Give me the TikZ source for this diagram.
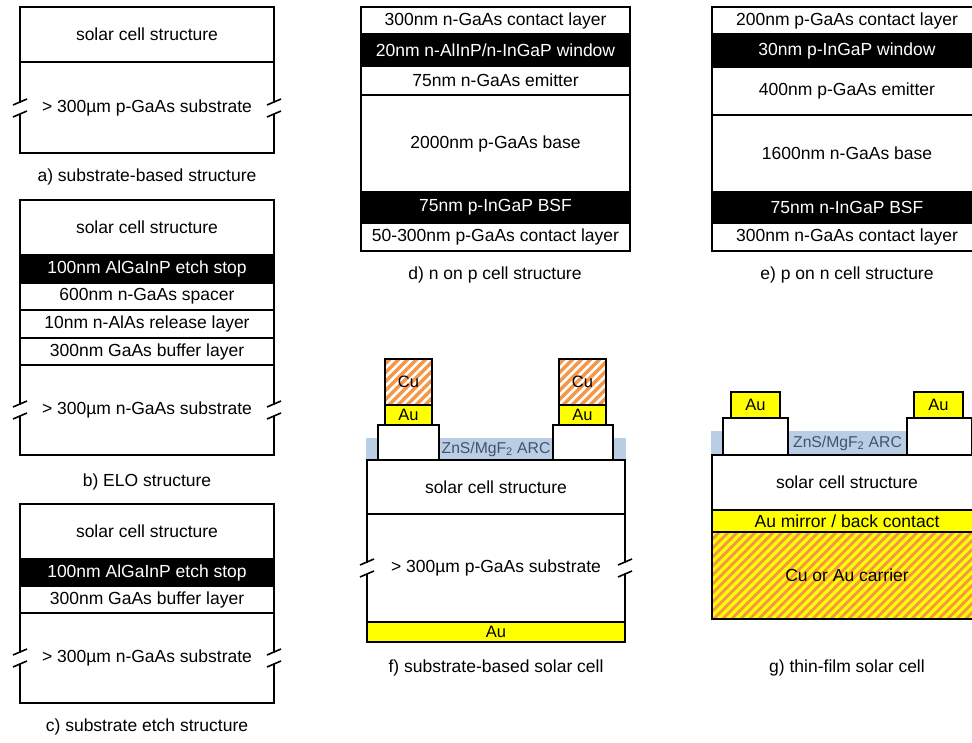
\documentclass[tikz,border=0pt]{standalone}
\usepackage{fontspec}
\setmainfont{Liberation Sans}
\definecolor{auY}{HTML}{FFFF00}
\definecolor{cuO}{HTML}{F79646}
\definecolor{arcB}{HTML}{B9CDE5}
\definecolor{arcT}{HTML}{44546A}
\newcommand\lay[7]{\node[lay,#6,minimum width={(#4-#2)*1pt},minimum height={(#5-#3)*1pt}] (#1) at ({(#2+#4)/2},{(#3+#5)/2}) {#7};}
\newcommand\brkmark[2]{%
  \fill[white] ({#1-2.5},{#2-5.5}) rectangle ({#1+2.5},{#2+5.5});
  \draw[line width=1.6pt] ({#1-7},{#2-3}) -- ({#1+7},{#2-9});
  \draw[line width=1.6pt] ({#1-7},{#2+9}) -- ({#1+7},{#2+3});}
\begin{document}
\begin{tikzpicture}[x=1pt,y=-1pt,
  lay/.style={draw,line width=1.6pt,inner sep=0pt,fill=white,text=black,font=\fontsize{17.5}{20}\selectfont},
  dark/.style={fill=black,text=white},
  gold/.style={fill=auY},
  smalltxt/.style={font=\fontsize{16.5}{19}\selectfont},
  cu/.style={fill=cuO,path picture={\foreach \k in {-150,-141,...,60} \draw[white,line width=2.6pt] ([xshift=\k pt]path picture bounding box.south) -- ++(150,-150);}},
  carrier/.style={fill=cuO,path picture={\foreach \k in {-300,-291,...,160} \draw[auY,line width=3.2pt] ([xshift=\k pt]path picture bounding box.south) -- ++(250,-250);}},
  arc/.style={fill=arcB,draw=none},
  arctxt/.style={text=arcT,inner sep=0pt,font=\fontsize{15.7}{18}\selectfont},
  captxt/.style={inner sep=0pt,font=\fontsize{17.5}{20}\selectfont}]
\useasboundingbox (0,0) rectangle (972,742);
\begin{scope}
\clip (0,0) rectangle (972,742);
% a)
\lay{a1}{20}{7}{274}{62}{}{solar cell structure}
\lay{a2}{20}{62}{274}{153}{}{> 300µm p-GaAs substrate}
\brkmark{20}{108}\brkmark{274}{108}
\node[captxt] (acap) at (147,177) {a) substrate-based structure};
% b)
\lay{b1}{20}{200}{274}{255}{}{solar cell structure}
\lay{b2}{20}{255}{274}{283}{dark}{100nm AlGaInP etch stop}
\lay{b3}{20}{283}{274}{310}{}{600nm n-GaAs spacer}
\lay{b4}{20}{310}{274}{338}{}{10nm n-AlAs release layer}
\lay{b5}{20}{338}{274}{365}{}{300nm GaAs buffer layer}
\lay{b6}{20}{365}{274}{455}{}{> 300µm n-GaAs substrate}
\brkmark{20}{410}\brkmark{274}{410}
\node[captxt] (bcap) at (147,482) {b) ELO structure};
% c)
\lay{c1}{20}{504}{274}{559}{}{solar cell structure}
\lay{c2}{20}{559}{274}{586}{dark}{100nm AlGaInP etch stop}
\lay{c3}{20}{586}{274}{613}{}{300nm GaAs buffer layer}
\lay{c4}{20}{613}{274}{703}{}{> 300µm n-GaAs substrate}
\brkmark{20}{658}\brkmark{274}{658}
\node[captxt] (ccap) at (147,727) {c) substrate etch structure};
% d)
\lay{d1}{361}{7}{630}{34}{}{300nm n-GaAs contact layer}
\lay{d2}{361}{34}{630}{66}{dark}{20nm n-AlInP/n-InGaP window}
\lay{d3}{361}{66}{630}{95}{}{75nm n-GaAs emitter}
\lay{d4}{361}{95}{630}{192}{}{2000nm p-GaAs base}
\lay{d5}{361}{192}{630}{223}{dark}{75nm p-InGaP BSF}
\lay{d6}{361}{223}{630}{251}{}{50-300nm p-GaAs contact layer}
\node[captxt] (dcap) at (495,275) {d) n on p cell structure};
% e)
\lay{e1}{712}{7}{982}{34}{}{200nm p-GaAs contact layer}
\lay{e2}{712}{34}{982}{67}{dark}{30nm p-InGaP window}
\lay{e3}{712}{67}{982}{115}{}{400nm p-GaAs emitter}
\lay{e4}{712}{115}{982}{192}{}{1600nm n-GaAs base}
\lay{e5}{712}{192}{982}{223}{dark}{75nm n-InGaP BSF}
\lay{e6}{712}{223}{982}{251}{}{300nm n-GaAs contact layer}
\node[captxt] (ecap) at (847,275) {e) p on n cell structure};
% f)
\lay{farc}{366}{438}{626}{460}{arc}{}
\lay{f1}{367}{460}{625}{514}{}{solar cell structure}
\lay{f2}{367}{514}{625}{622}{}{> 300µm p-GaAs substrate}
\lay{f3}{367}{622}{625}{642}{gold,smalltxt}{Au}
\brkmark{367}{568}\brkmark{625}{568}
\lay{fpl}{378}{425}{439}{460}{}{}
\lay{fpr}{553}{425}{613}{460}{}{}
\lay{fal}{385}{405}{432}{425}{gold,smalltxt}{Au}
\lay{far}{559}{405}{606}{425}{gold,smalltxt}{Au}
\lay{fcl}{385}{359}{432}{405}{cu,smalltxt}{Cu}
\lay{fcr}{559}{359}{606}{405}{cu,smalltxt}{Cu}
\node[arctxt] (farct) at (496,449) {ZnS/MgF\textsubscript{2} ARC};
\node[captxt] (fcap) at (496,668) {f) substrate-based solar cell};
% g)
\lay{garc}{711}{431}{983}{455}{arc}{}
\lay{g1}{712}{455}{982}{510}{}{solar cell structure}
\lay{g2}{712}{510}{982}{532}{gold}{Au mirror / back contact}
\lay{g3}{712}{532}{982}{619}{carrier}{Cu or Au carrier}
\lay{gpl}{723}{418}{788}{455}{}{}
\lay{gpr}{907}{418}{972}{455}{}{}
\lay{gal}{731}{392}{780}{418}{gold,smalltxt}{Au}
\lay{gar}{914}{392}{963}{418}{gold,smalltxt}{Au}
\node[arctxt] (garct) at (847.5,443) {ZnS/MgF\textsubscript{2} ARC};
\node[captxt] (gcap) at (847,668) {g) thin-film solar cell};
\end{scope}
\end{tikzpicture}
\end{document}
